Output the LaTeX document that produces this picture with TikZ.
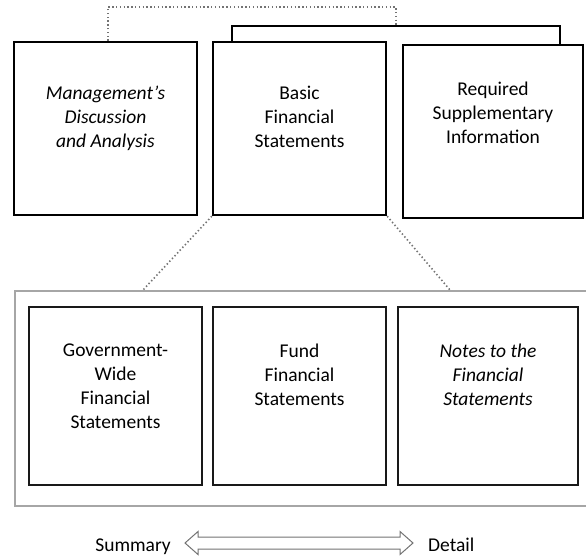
\documentclass[tikz,border=0pt]{standalone}
\usepackage{fontspec}
\setmainfont{Carlito}
\usetikzlibrary{positioning,calc}

\newcommand{\diagfont}{\fontsize{19.5}{24}\selectfont}

\tikzset{
  topbox/.style={draw=black, line width=2.4pt, minimum width=173pt, minimum height=173pt, inner sep=0pt},
  lowbox/.style={draw=black!90, line width=2pt, minimum width=173pt, minimum height=178pt, inner sep=0pt},
  boxtext/.style={align=center, inner sep=0pt, text=black, font=\diagfont, execute at begin node=\strut},
  slanted/.style={font=\diagfont\itshape},
  bracket/.style={draw=black, line width=2pt},
  dotline/.style={draw=black!55, line width=1.6pt, dash pattern=on 1.4pt off 2.4pt},
  panel/.style={draw=black!35, line width=1.5pt, inner sep=0pt},
  sidetext/.style={inner sep=0pt, text=black, font=\diagfont},
  scalearrow/.style={draw=black!55, line width=1pt, fill=white, line join=miter}
}

\begin{document}
\begin{tikzpicture}[x=1pt,y=-1pt]
  \useasboundingbox (0,0) rectangle (586,559);

  % the three parts of the report
  \node[topbox, minimum width=183pt] (mda) at (105.5,128.5) {};
  \node[topbox] (bfs) at (299.5,128.5) {};
  \node[topbox, minimum width=180pt] (rsi) at (493,131.5) {};

  \node[boxtext, slanted, below=45pt of mda.north] {Management's\\Discussion\\and Analysis};
  \node[boxtext, below=45pt of bfs.north] {Basic\\Financial\\Statements};
  \node[boxtext, below=38pt of rsi.north] {Required\\Supplementary\\Information};

  % bracket over the required parts
  \coordinate (brL) at (232,26);
  \coordinate (brR) at (560,26);
  \draw[bracket] (bfs.north -| brL) -- (brL) -- (brR) -- (rsi.north -| brR);

  \coordinate (dotL) at (108,7);
  \coordinate (dotR) at (396,7);
  \draw[dotline] (mda.north -| dotL) -- (dotL) -- (dotR) -- (dotR |- brL);

  % basic statements, opened up
  \node[panel, anchor=north west, minimum width=576pt, minimum height=215pt] (detail) at (14,290) {};

  \node[lowbox] (gov) at (115.5,396) {};
  \node[lowbox] (fund) at (299.5,396) {};
  \node[lowbox, minimum width=180pt] (notes) at (488,396) {};

  \node[boxtext, below=38pt of gov.north] {Government-\\Wide\\Financial\\Statements};
  \node[boxtext, below=38pt of fund.north] {Fund\\Financial\\Statements};
  \node[boxtext, slanted, below=38pt of notes.north] {Notes to the\\Financial\\Statements};

  \coordinate (zoomL) at (143,290);
  \coordinate (zoomR) at (450,290);
  \draw[dotline] (bfs.south west) -- (zoomL);
  \draw[dotline] (bfs.south east) -- (zoomR);

  % summary <-> detail
  \node[sidetext, anchor=base east] (summary) at (171,551) {Summary};
  \node[sidetext, anchor=base west] (detailtxt) at (428,551) {Detail};

  \coordinate (arrL) at (185,543);
  \coordinate (arrR) at (413,543);
  \draw[scalearrow] (arrL) -- ++(13,-11.5) -- ++(0,5.5) -- ($(arrR)+(-13,-6)$) -- ++(0,-5.5)
    -- (arrR) -- ++(-13,11.5) -- ++(0,-5.5) -- ($(arrL)+(13,6)$) -- ++(0,5.5) -- cycle;
\end{tikzpicture}
\end{document}
